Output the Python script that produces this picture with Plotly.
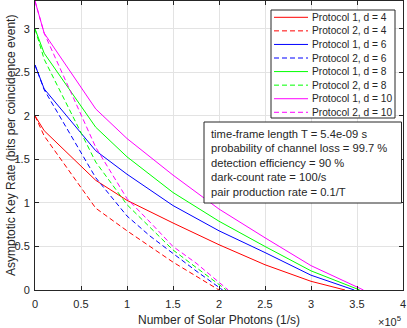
import plotly.graph_objects as go

# x in photons/s, rate in bits per coincidence event
x_p1 = [0, 1.0e4, 6.6e4, 1.0e5, 1.5e5, 2.0e5, 2.5e5, 3.0e5]
p1_d4 = [2.0, 1.83, 1.26, 1.03, 0.77, 0.52, 0.29, 0.10]
p1_d6 = [2.585, 2.31, 1.60, 1.33, 0.97, 0.68, 0.43, 0.17]
p1_d8 = [3.0, 2.72, 1.87, 1.53, 1.12, 0.79, 0.50, 0.22]
p1_d10 = [3.32, 2.95, 2.08, 1.74, 1.32, 0.93, 0.60, 0.28]
p1_end = [3.37e5, 3.47e5, 3.53e5, 3.57e5]

x_p2 = [0, 1.0e4, 6.6e4, 1.0e5, 1.25e5, 1.5e5, 1.75e5]
p2_d4 = [2.0, 1.77, 0.94, 0.68, 0.50, 0.32, 0.16]
p2_d6 = [2.585, 2.30, 1.29, 0.85, 0.62, 0.42, 0.22]
p2_d8 = [3.0, 2.65, 1.47, 0.98, 0.72, 0.46, 0.26]
p2_d10 = [3.32, 2.95, 1.64, 1.05, 0.78, 0.50, 0.31]
p2_end = [2.00e5, 2.04e5, 2.08e5, 2.10e5]

d_values = [4, 6, 8, 10]
colors = ['#ff0000', '#0000ff', '#00ff00', '#ff00ff']

x_tickvals = [0, 0.5e5, 1e5, 1.5e5, 2e5, 2.5e5, 3e5, 3.5e5, 4e5]
x_ticktext = ['0', '0.5', '1', '1.5', '2', '2.5', '3', '3.5', '4']

info_lines = [
    'time-frame length T = 5.4e-09 s',
    'probability of channel loss = 99.7 %',
    'detection efficiency = 90 %',
    'dark-count rate = 100/s',
    'pair production rate = 0.1/T',
]

FONT = 'Liberation Sans, Arial, sans-serif'
INK = '#262626'
W, H = 407, 328
L, R, T, B = 35, 403, 1, 290


def px(x):
    return (x - L) / (R - L)


def py(y):
    return (B - y) / (B - T)


fig = go.Figure()
p1 = [p1_d4, p1_d6, p1_d8, p1_d10]
p2 = [p2_d4, p2_d6, p2_d8, p2_d10]
for i, d in enumerate(d_values):
    fig.add_trace(go.Scatter(x=x_p1 + [p1_end[i]], y=p1[i] + [0], mode='lines',
                             line=dict(color=colors[i], width=1),
                             name='Protocol 1, d = %d' % d, showlegend=False))
    fig.add_trace(go.Scatter(x=x_p2 + [p2_end[i]], y=p2[i] + [0], mode='lines',
                             line=dict(color=colors[i], width=1, dash='5px,3px'),
                             name='Protocol 2, d = %d' % d, showlegend=False))

shapes = []
annotations = []

# legend drawn by hand so the rows can be as tight as the original
shapes.append(dict(type='rect', xref='paper', yref='paper', x0=px(271), x1=px(395), y0=py(10), y1=py(118),
                   line=dict(color=INK, width=1), fillcolor='white', layer='above'))
for k in range(8):
    i = k // 2
    yy = py(17.3 + 13.57 * k)
    shapes.append(dict(type='line', xref='paper', yref='paper', x0=px(274), x1=px(308), y0=yy, y1=yy,
                       line=dict(color=colors[i], width=1, dash='solid' if k % 2 == 0 else '5px,3px'),
                       layer='above'))
    annotations.append(dict(xref='paper', yref='paper', x=px(310), y=yy, xanchor='left', yanchor='middle',
                            text='Protocol %d, d = %d' % (k % 2 + 1, d_values[i]), showarrow=False,
                            font=dict(family=FONT, size=10.2, color=INK)))

# parameter box
shapes.append(dict(type='rect', xref='paper', yref='paper', x0=px(204), x1=px(401.5), y0=py(122), y1=py(203),
                   line=dict(color=INK, width=1), fillcolor='white', layer='above'))
for k, line in enumerate(info_lines):
    annotations.append(dict(xref='paper', yref='paper', x=px(209), y=py(134 + 14.5 * k), xanchor='left',
                            yanchor='middle', text=line, showarrow=False,
                            font=dict(family=FONT, size=11.2, color=INK)))

# axis titles and the x10^5 multiplier
annotations.append(dict(xref='paper', yref='paper', x=px(219), y=py(320), xanchor='center', yanchor='middle',
                        text='Number of Solar Photons (1/s)', showarrow=False,
                        font=dict(family=FONT, size=12, color=INK)))
annotations.append(dict(xref='paper', yref='paper', x=px(11), y=py(146), xanchor='center', yanchor='middle',
                        text='Asymptotic Key Rate (bits per coincidence event)', showarrow=False, textangle=-90,
                        font=dict(family=FONT, size=12, color=INK)))
annotations.append(dict(xref='paper', yref='paper', x=px(403), y=py(321), xanchor='right', yanchor='middle',
                        text='\u00d710<sup>5</sup>', showarrow=False,
                        font=dict(family=FONT, size=11, color=INK)))

axis_common = dict(showline=True, linecolor=INK, linewidth=1, mirror='ticks', ticks='inside',
                   ticklen=4, tickcolor=INK, showgrid=True, gridcolor='#e3e3e3', gridwidth=1,
                   zeroline=False, tickfont=dict(family=FONT, size=11, color=INK))

fig.update_layout(
    width=W, height=H,
    margin=dict(l=L, r=W - R, t=T, b=H - B),
    paper_bgcolor='white', plot_bgcolor='white',
    xaxis=dict(range=[0, 4e5], tickvals=x_tickvals, ticktext=x_ticktext, ticklabelstandoff=4, **axis_common),
    yaxis=dict(range=[0, 3.32], dtick=0.5, tick0=0, ticklabelstandoff=2, **axis_common),
    shapes=shapes,
    annotations=annotations,
    showlegend=False,
)

# the page's default 8px body margin would push the figure off the window
fig.write_html("out.html", config={'displayModeBar': False},
               post_script="document.body.style.margin='0px';")
